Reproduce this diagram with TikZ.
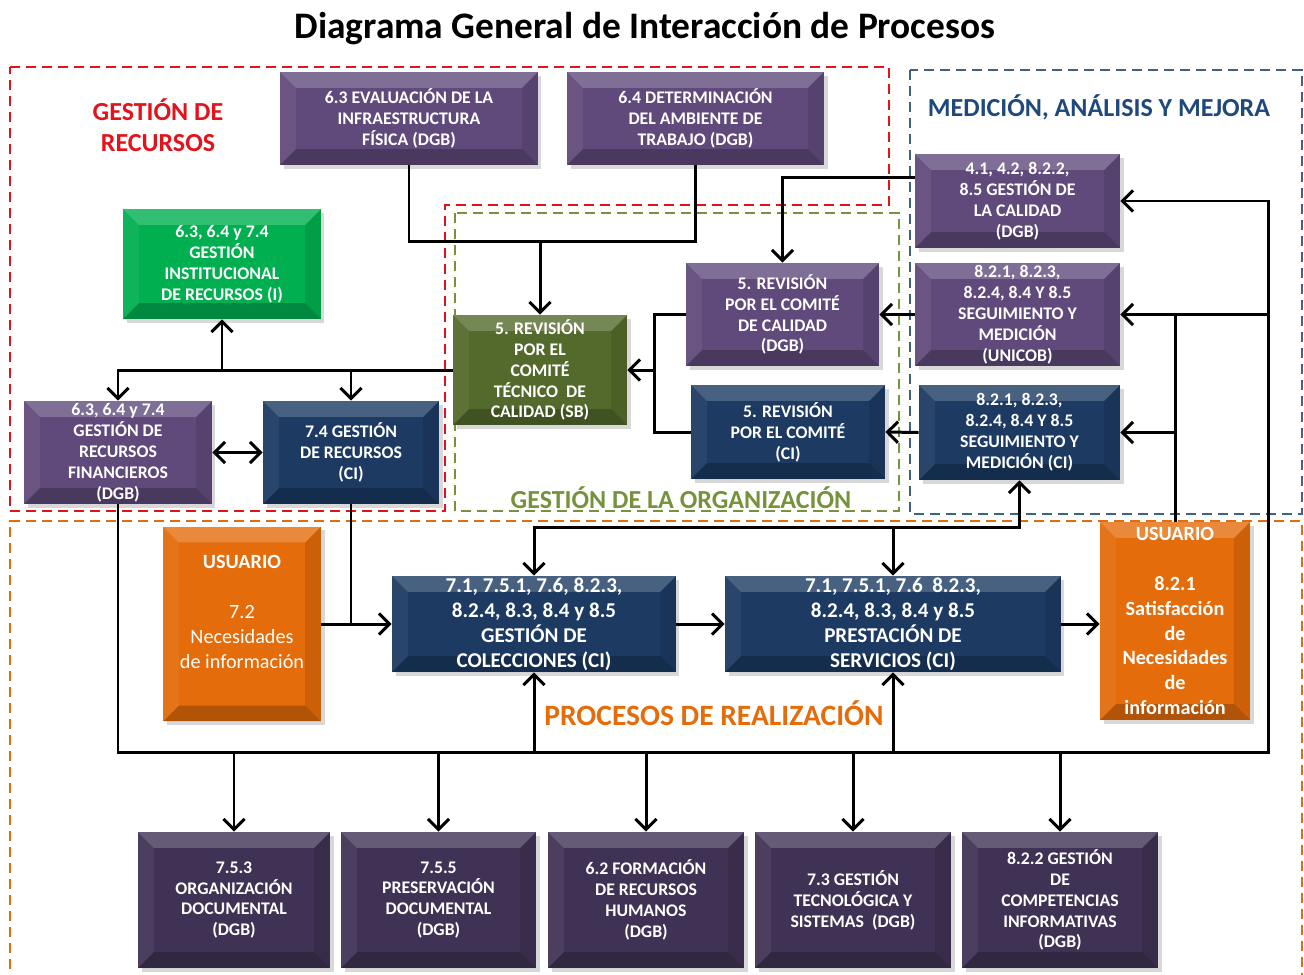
\documentclass[tikz,border=0pt]{standalone}
\usepackage{fontspec}
\setmainfont{Carlito}
\usetikzlibrary{arrows.meta,shadows,calc}
\definecolor{morado}{RGB}{96,74,123}
\definecolor{moradoosc}{RGB}{64,50,84}
\definecolor{marino}{RGB}{28,58,98}
\definecolor{olivo}{RGB}{84,106,44}
\definecolor{verde}{RGB}{0,176,80}
\definecolor{naranja}{RGB}{228,108,10}
\definecolor{rojo}{RGB}{225,20,28}
\definecolor{verdeclaro}{RGB}{118,146,60}
\definecolor{azulgris}{RGB}{65,95,135}
\definecolor{azultit}{RGB}{31,73,125}
\tikzset{
  bevel/.style={path picture={
    \fill[white,opacity=.2] (path picture bounding box.north west) -- (path picture bounding box.north east)
      -- ([xshift=-9pt,yshift=-9pt]path picture bounding box.north east) -- ([xshift=9pt,yshift=-9pt]path picture bounding box.north west) -- cycle;
    \fill[black,opacity=.22] (path picture bounding box.south west) -- (path picture bounding box.south east)
      -- ([xshift=-9pt,yshift=9pt]path picture bounding box.south east) -- ([xshift=9pt,yshift=9pt]path picture bounding box.south west) -- cycle;
    \fill[black,opacity=.1] (path picture bounding box.north east) -- (path picture bounding box.south east)
      -- ([xshift=-9pt,yshift=9pt]path picture bounding box.south east) -- ([xshift=-9pt,yshift=-9pt]path picture bounding box.north east) -- cycle;
    \fill[white,opacity=.06] (path picture bounding box.north west) -- (path picture bounding box.south west)
      -- ([xshift=9pt,yshift=9pt]path picture bounding box.south west) -- ([xshift=9pt,yshift=-9pt]path picture bounding box.north west) -- cycle;}},
  caja/.style={rectangle,inner sep=0pt,align=center,text=white,bevel,
    drop shadow={shadow xshift=2pt,shadow yshift=-2pt,opacity=.3},
    font=\bfseries\fontsize{10.1}{11.9}\selectfont},
  grande/.style={font=\bfseries\fontsize{12}{14.2}\selectfont},
  ln/.style={line width=1.7pt},
  zona/.style={line width=1.1pt,dash pattern=on 0.2cm off 0.12cm},
  rotulo/.style={font=\bfseries\fontsize{14.8}{17.6}\selectfont,align=center},
  >={Straight Barb[length=6pt,width=12pt]}
}
\begin{document}
\begin{tikzpicture}[x=0.02cm,y=-0.02cm]
\useasboundingbox[fill=white] (0,0) rectangle (1304,974);
%
\node[font=\bfseries\fontsize{21.3}{24}\selectfont] (titulo) at (645,29) {Diagrama General de Interacción de Procesos};
%
% zonas
\draw[zona,rojo] (10,67) -- (889,67) -- (889,205) -- (445,205) -- (445,511) -- (10,511) -- cycle;
\draw[zona,verdeclaro] (455,213) rectangle (899,511);
\draw[zona,azulgris] (910,70) rectangle (1302,514);
\draw[zona,naranja] (10,985) -- (10,521) -- (1302,521) -- (1302,985);
\node[rotulo,text=rojo] (trec) at (158,125) {GESTIÓN DE\\RECURSOS};
\node[rotulo,text=azultit] (tmed) at (1099,107) {MEDICIÓN, ANÁLISIS Y MEJORA};
\node[rotulo,text=verdeclaro] (torg) at (681,498) {GESTIÓN DE LA ORGANIZACIÓN};
\node[rotulo,text=naranja,font=\bfseries\fontsize{16.8}{18}\selectfont] (trea) at (714,713) {PROCESOS DE REALIZACIÓN};
%
% gestion de recursos
\node[caja,fill=morado,minimum width=5.16cm,minimum height=1.86cm] (eval) at (409,118.5) {6.3 EVALUACIÓN DE LA\\INFRAESTRUCTURA\\FÍSICA (DGB)};
\node[caja,fill=morado,minimum width=5.14cm,minimum height=1.86cm] (det) at (695.5,118.5) {6.4 DETERMINACIÓN\\DEL AMBIENTE DE\\TRABAJO (DGB)};
\node[caja,fill=verde,minimum width=3.96cm,minimum height=2.2cm] (gir) at (222,264) {6.3, 6.4 y 7.4\\GESTIÓN\\INSTITUCIONAL\\DE RECURSOS (I)};
\node[caja,fill=morado,minimum width=3.76cm,minimum height=2.06cm] (fin) at (118,452.5) {6.3, 6.4 y 7.4\\GESTIÓN DE\\RECURSOS\\FINANCIEROS\\(DGB)};
\node[caja,fill=marino,minimum width=3.52cm,minimum height=2.06cm] (rec) at (351,452.5) {7.4 GESTIÓN\\DE RECURSOS\\(CI)};
%
% gestion de la organizacion
\node[caja,fill=olivo,minimum width=3.48cm,minimum height=2.2cm] (ctc) at (540,370) {5. REVISIÓN\\POR EL\\COMITÉ\\TÉCNICO~ DE\\CALIDAD (SB)};
\node[caja,fill=morado,minimum width=3.86cm,minimum height=2.06cm] (rdgb) at (782.5,314.5) {5. REVISIÓN\\POR EL COMITÉ\\DE CALIDAD\\(DGB)};
\node[caja,fill=marino,minimum width=3.88cm,minimum height=1.88cm] (rci) at (788,432) {5. REVISIÓN\\POR EL COMITÉ\\(CI)};
%
% medicion, analisis y mejora
\node[caja,fill=morado,minimum width=4.1cm,minimum height=1.88cm] (gc) at (1017.5,201) {4.1, 4.2, 8.2.2,\\8.5 GESTIÓN DE\\LA CALIDAD\\(DGB)};
\node[caja,fill=morado,minimum width=4.1cm,minimum height=2.06cm] (smu) at (1017.5,314.5) {8.2.1, 8.2.3,\\8.2.4, 8.4 Y 8.5\\SEGUIMIENTO Y\\MEDICIÓN\\(UNICOB)};
\node[caja,fill=marino,minimum width=4.02cm,minimum height=1.9cm] (smci) at (1019.5,432.5) {8.2.1, 8.2.3,\\8.2.4, 8.4 Y 8.5\\SEGUIMIENTO Y\\MEDICIÓN (CI)};
%
% procesos de realizacion
\node[caja,fill=naranja,minimum width=3.16cm,minimum height=3.9cm,font=\fontsize{11.5}{14.2}\selectfont] (usr1) at (242,624) {\textbf{USUARIO}\\[14.2pt]7.2\\Necesidades\\de información\\[0pt]~};
\node[caja,grande,fill=marino,minimum width=5.68cm,minimum height=1.92cm] (col) at (534,624) {7.1, 7.5.1, 7.6, 8.2.3,\\8.2.4, 8.3, 8.4 y 8.5\\GESTIÓN DE\\COLECCIONES (CI)};
\node[caja,grande,fill=marino,minimum width=6.72cm,minimum height=1.92cm] (pre) at (893,624) {7.1, 7.5.1, 7.6~ 8.2.3,\\8.2.4, 8.3, 8.4 y 8.5\\PRESTACIÓN DE\\SERVICIOS (CI)};
\node[caja,fill=naranja,minimum width=3.0cm,minimum height=3.96cm,font=\bfseries\fontsize{11.5}{14.2}\selectfont] (usr2) at (1175,621) {USUARIO\\[14.2pt]8.2.1\\Satisfacción\\de\\Necesidades\\de\\información};
%
\node[caja,fill=moradoosc,minimum width=3.84cm,minimum height=2.72cm] (b1) at (234,900) {7.5.3\\ORGANIZACIÓN\\DOCUMENTAL\\(DGB)};
\node[caja,fill=moradoosc,minimum width=3.9cm,minimum height=2.72cm] (b2) at (438.5,900) {7.5.5\\PRESERVACIÓN\\DOCUMENTAL\\(DGB)};
\node[caja,fill=moradoosc,minimum width=3.92cm,minimum height=2.72cm] (b3) at (646,900) {6.2 FORMACIÓN\\DE RECURSOS\\HUMANOS\\(DGB)};
\node[caja,fill=moradoosc,minimum width=3.92cm,minimum height=2.72cm] (b4) at (853,900) {7.3 GESTIÓN\\TECNOLÓGICA Y\\SISTEMAS~ (DGB)};
\node[caja,fill=moradoosc,minimum width=3.92cm,minimum height=2.72cm] (b5) at (1060,900) {8.2.2 GESTIÓN\\DE\\COMPETENCIAS\\INFORMATIVAS\\(DGB)};
%===========================
% conectores
\draw[ln] (eval.south) -- ++(0,76) -| (det.south);
\coordinate (j1) at (540,241);
\draw[ln,->] (j1) -- (ctc.north);
\draw[ln,->] ($(gc.north west)!.25!(gc.south west)$) -| (rdgb.north);
\draw[ln,->] (smu.west) -- (rdgb.east);
\draw[ln,->] (smci.west) -- (rci.east);
\draw[ln] (rdgb.west) -- ++(-31,0) coordinate (j2) |- (rci.west);
\draw[ln,->] (j2 |- ctc.east) -- (ctc.east);
\draw[ln,->] (ctc.west) -| (fin.north);
\draw[ln,->] (gir.south |- ctc.west) -- (gir.south);
\draw[ln,->] (rec.north |- ctc.west) -- (rec.north);
\draw[ln,<->] (fin.east) -- (rec.west);
%
\draw[ln,->] (rec.south) |- (col.west);
\draw[ln] (usr1.east) -- (rec.south |- col.west);
\draw[ln,->] (col.east) -- (pre.west);
\draw[ln,->] (pre.east) -- (pre.east -| usr2.west);
\draw[ln,<->] (col.north) -- ++(0,-48) coordinate (tp) -| (smci.south);
\draw[ln,->] (pre.north |- tp) -- (pre.north);
%
\coordinate (br) at (1268,752);
\draw[ln,->] (fin.south) |- (br) |- (gc.east);
\draw[ln,->] (br |- smu.east) -- (smu.east);
\draw[ln] (usr2.north) -- (usr2.north |- smu.east);
\draw[ln,->] (usr2.north |- smci.east) -- (smci.east);
\draw[ln,->] (col.south |- br) -- (col.south);
\draw[ln,->] (pre.south |- br) -- (pre.south);
\foreach \b in {b1,b2,b3,b4,b5}{\draw[ln,->] (\b.north |- br) -- (\b.north);}
\end{tikzpicture}
\end{document}
